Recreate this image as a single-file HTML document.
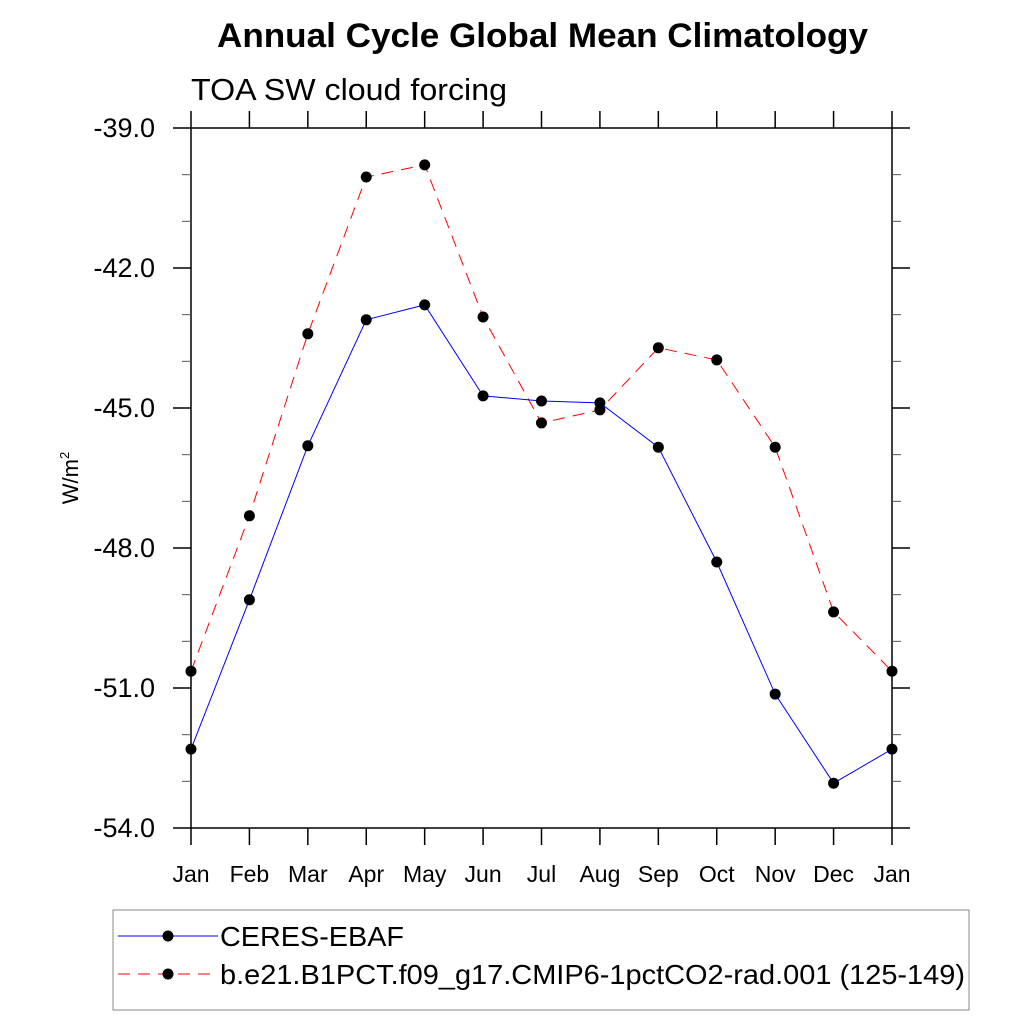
<!DOCTYPE html>
<html><head><meta charset="utf-8"><style>
body{margin:0;background:#fff;}
svg text{font-family:"Liberation Sans",sans-serif;}
</style></head><body>
<svg id="c" width="1024" height="1024" xmlns="http://www.w3.org/2000/svg">
<text x="217" y="47" font-size="34" font-weight="bold" textLength="651" lengthAdjust="spacingAndGlyphs">Annual Cycle Global Mean Climatology</text>
<text x="191" y="100" font-size="31" textLength="316" lengthAdjust="spacingAndGlyphs">TOA SW cloud forcing</text>
<text transform="translate(78,478) rotate(-90)" text-anchor="middle" font-size="22">W/m<tspan font-size="13" dy="-9">2</tspan></text>
<g id="axes"></g>
<g id="series"></g>
<rect x="113" y="910" width="856" height="100" fill="none" stroke="#888" stroke-width="1"/>
<g>
<line x1="118" y1="936" x2="218" y2="936" stroke="#00f" stroke-width="1"/>
<circle cx="168" cy="936" r="5.5" fill="#000"/>
<text x="220" y="946" font-size="28" textLength="184" lengthAdjust="spacingAndGlyphs">CERES-EBAF</text></g>
<g>
<line x1="118" y1="974" x2="218" y2="974" stroke="#f00" stroke-width="1" stroke-dasharray="12,8"/>
<circle cx="168" cy="974" r="5.5" fill="#000"/>
<text x="220" y="984" font-size="28" textLength="745" lengthAdjust="spacingAndGlyphs">b.e21.B1PCT.f09_g17.CMIP6-1pctCO2-rad.001 (125-149)</text></g>
</svg>
<script>
const months=["Jan","Feb","Mar","Apr","May","Jun","Jul","Aug","Sep","Oct","Nov","Dec","Jan"];
const ceres=[-52.31,-49.11,-45.81,-43.11,-42.79,-44.74,-44.85,-44.89,-45.84,-48.30,-51.13,-53.04,-52.31];
const model=[-50.64,-47.31,-43.41,-40.05,-39.79,-43.05,-45.32,-45.04,-43.71,-43.97,-45.84,-49.37,-50.64];
const yTicks=[-39,-42,-45,-48,-51,-54];
const yMinor=[-40,-41,-43,-44,-46,-47,-49,-50,-52,-53];
const X0=191,X1=892,Y0=128,Y1=828,ymax=-39,ymin=-54;
const xs=i=>X0+(X1-X0)*i/(months.length-1);
const ys=v=>Y0+(ymax-v)/(ymax-ymin)*(Y1-Y0);
const NS="http://www.w3.org/2000/svg";
function mk(t,a,p){const e=document.createElementNS(NS,t);for(const k in a)e.setAttribute(k,a[k]);p.appendChild(e);return e;}
const ax=document.getElementById('axes'),sr=document.getElementById('series');
const fr=mk('rect',{x:X0,y:Y0,width:X1-X0,height:Y1-Y0,fill:'none',stroke:'#000','stroke-width':1.5},ax);


yTicks.forEach(v=>{const y=ys(v);
mk('line',{x1:X0-18,y1:y,x2:X0,y2:y,stroke:'#000','stroke-width':1.5},ax);
mk('line',{x1:X1,y1:y,x2:X1+18,y2:y,stroke:'#000','stroke-width':1.5},ax);
const t=mk('text',{x:X0-36,y:y+9,'text-anchor':'end','font-size':27},ax);t.textContent=v.toFixed(1);

});
yMinor.forEach(v=>{const y=ys(v);
mk('line',{x1:X0-9,y1:y,x2:X0,y2:y,stroke:'#555','stroke-width':1},ax);
mk('line',{x1:X1,y1:y,x2:X1+9,y2:y,stroke:'#555','stroke-width':1},ax);});
months.forEach((m,i)=>{const x=xs(i);
mk('line',{x1:x,y1:Y1,x2:x,y2:Y1+17,stroke:'#000','stroke-width':1.5},ax);
mk('line',{x1:x,y1:Y0-17,x2:x,y2:Y0,stroke:'#000','stroke-width':1.5},ax);
const t=mk('text',{x:x,y:882,'text-anchor':'middle','font-size':23},ax);t.textContent=m;

});
function series(d,col,dash,name){
const p=mk('polyline',{points:d.map((v,i)=>xs(i)+','+ys(v)).join(' '),fill:'none',stroke:col,'stroke-width':1,'stroke-dasharray':dash},sr);


d.forEach((v,i)=>{const c=mk('circle',{cx:xs(i),cy:ys(v),r:5.5,fill:'#000'},sr);

});}
series(model,'#f00','12,8','model');
series(ceres,'#00f','none','ceres');
</script>
</body></html>
